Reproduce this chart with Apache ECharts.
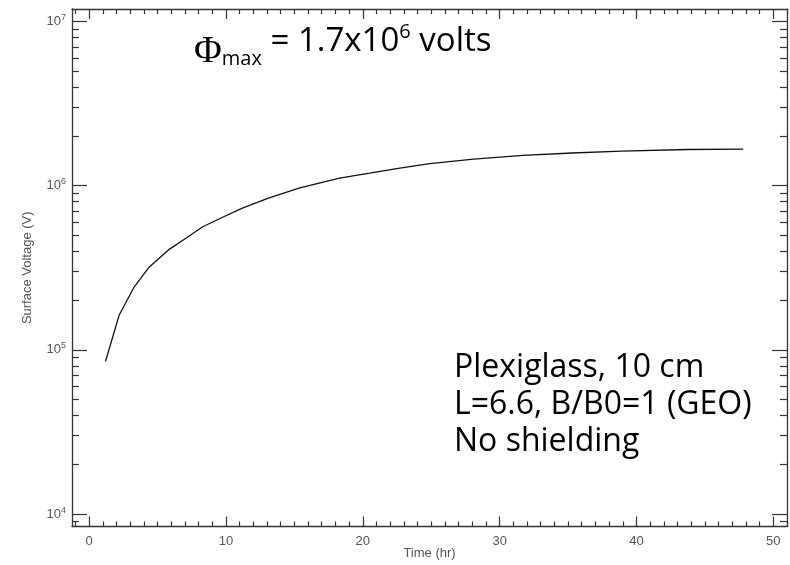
<!DOCTYPE html>
<html>
<head>
<meta charset="utf-8">
<script src="https://cdn.jsdelivr.net/npm/echarts@6/dist/echarts.min.js"></script>
<style>
html,body{margin:0;padding:0;background:#fff;}
#chart{width:790px;height:565px;}
</style>
</head>
<body>
<div id="chart"></div>
<script>
// Data
const timeHr = [1.2, 2.2, 3.3, 4.4, 5.8, 7.1, 8.3, 9.8, 11.2, 13.1, 15.4, 18.3, 20.5, 22.7, 24.9, 28.1, 31.7, 35.3, 38.9, 43.7, 47.8];
const voltage = [8.5e4, 1.63e5, 2.42e5, 3.2e5, 4.06e5, 4.8e5, 5.62e5, 6.44e5, 7.3e5, 8.4e5, 9.7e5, 1.11e6, 1.19e6, 1.28e6, 1.36e6, 1.45e6, 1.53e6, 1.58e6, 1.62e6, 1.66e6, 1.67e6];

const xMajorTicks = [0, 10, 20, 30, 40, 50];
const yMajorTicks = [1e4, 1e5, 1e6, 1e7];
const yTickExponents = ['4', '5', '6', '7'];

const xRange = [-1.25, 51];
const yRange = [8400, 11900000];

const xAxisTitle = 'Time (hr)';
const yAxisTitle = 'Surface Voltage (V)';
const annotationLines = ['Plexiglass, 10 cm', 'L=6.6, B/B0=1 (GEO)', 'No shielding'];

// minor tick positions
const xMinorTicks = [];
for (let i = -1; i <= 51; i++) { if (i % 10 !== 0) xMinorTicks.push(i); }
const yMinorTicks = [];
for (let e = 3; e <= 6; e++) {
  for (let m = 2; m <= 9; m++) {
    const v = m * Math.pow(10, e);
    if (v >= yRange[0] && v <= yRange[1]) yMinorTicks.push(v);
  }
}

const axisColor = '#333';
const labelFont = 'Liberation Sans';
const labelColor = '#555';

function xAx(pos, major, showLine, showLabel) {
  return {
    type: 'value', min: xRange[0], max: xRange[1], position: pos,
    axisLine: { show: showLine, onZero: false, lineStyle: { color: axisColor, width: 1.3 } },
    axisTick: { show: true, inside: true, length: major ? 10 : 5, customValues: major ? xMajorTicks : xMinorTicks, lineStyle: { color: axisColor, width: 1.2 } },
    axisLabel: { show: showLabel, customValues: xMajorTicks, color: labelColor, fontFamily: labelFont, fontSize: 13, lineHeight: 9, margin: 10 },
    splitLine: { show: false }
  };
}
function yAx(pos, major, showLine, showLabel) {
  return {
    type: 'log', logBase: 10, min: yRange[0], max: yRange[1], position: pos,
    axisLine: { show: showLine, onZero: false, lineStyle: { color: axisColor, width: 1.3 } },
    axisTick: { show: true, inside: true, length: major ? 15 : 7, customValues: major ? yMajorTicks : yMinorTicks, lineStyle: { color: axisColor, width: 1.2 } },
    axisLabel: {
      show: showLabel, customValues: yMajorTicks, margin: 6,
      formatter: function (v) {
        const idx = yMajorTicks.findIndex(t => Math.abs(t - v) / t < 1e-6);
        return idx >= 0 ? '10{sup|' + yTickExponents[idx] + '}' : '';
      },
      color: labelColor, fontFamily: labelFont, fontSize: 13,
      rich: { sup: { fontSize: 9, color: labelColor, fontFamily: labelFont, verticalAlign: 'top', padding: [0, 0, 8, 0] } }
    },
    splitLine: { show: false },
    name: showLabel ? yAxisTitle : '',
    nameLocation: 'middle', nameGap: 38, nameRotate: 90,
    nameTextStyle: { color: labelColor, fontFamily: labelFont, fontSize: 13 }
  };
}

const chart = echarts.init(document.getElementById('chart'), null, { renderer: 'canvas' });
chart.setOption({
  backgroundColor: '#fff',
  animation: false,
  grid: { left: 72, right: 3, top: 9, bottom: 38.5, containLabel: false, outerBoundsMode: 'none' },
  xAxis: [
    xAx('bottom', true, true, true),
    xAx('bottom', false, false, false),
    xAx('top', true, true, false),
    xAx('top', false, false, false)
  ],
  yAxis: [
    yAx('left', true, true, true),
    yAx('left', false, false, false),
    yAx('right', true, true, false),
    yAx('right', false, false, false)
  ],
  series: [{
    type: 'line',
    xAxisIndex: 0, yAxisIndex: 0,
    data: timeHr.map((t, i) => [t, voltage[i]]),
    showSymbol: false, symbol: 'none',
    lineStyle: { color: '#111', width: 1.3 }
  }],
  graphic: [
    {
      type: 'text', x: 429.5, y: 553,
      style: {
        text: xAxisTitle, fontFamily: labelFont, fontSize: 13, fill: labelColor,
        textAlign: 'center', textVerticalAlign: 'middle', align: 'center', verticalAlign: 'middle'
      }
    },
    {
      type: 'text', left: 194, top: 22,
      style: {
        text: '{phi|Φ}{sub|max}{n| = 1.7x10}{sup|6}{n| volts}',
        rich: {
          phi: { fontFamily: 'Liberation Serif', fontSize: 38, fill: '#000', verticalAlign: 'top', padding: [18, 0, 0, 0] },
          sub: { fontFamily: 'Open Sans', fontSize: 20, fill: '#000', verticalAlign: 'top', padding: [34, 0, 0, 0] },
          n: { fontFamily: 'Open Sans', fontSize: 33, fill: '#000', verticalAlign: 'top', padding: [10, 0, 0, 0] },
          sup: { fontFamily: 'Open Sans', fontSize: 20, fill: '#000', verticalAlign: 'top', padding: [7, 0, 0, 0] }
        }
      }
    },
    {
      type: 'text', left: 454, top: 349,
      style: {
        text: annotationLines.join('\n'),
        fontFamily: 'Open Sans', fontSize: 32, lineHeight: 37, fill: '#000'
      }
    }
  ]
});
</script>
</body>
</html>
